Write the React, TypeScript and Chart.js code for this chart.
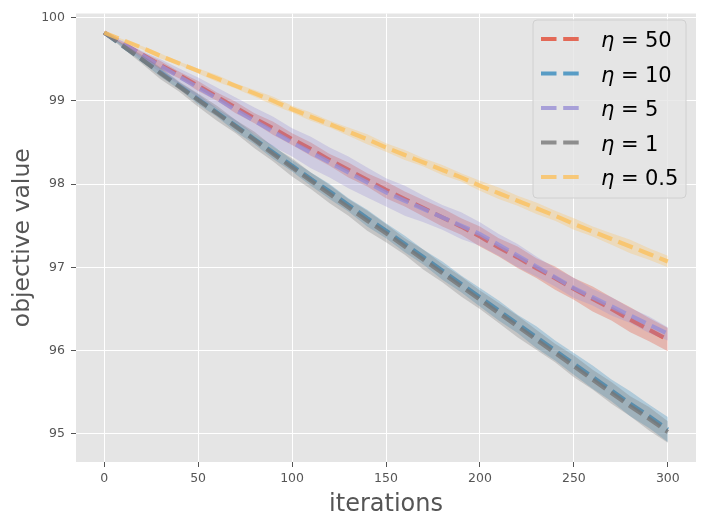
import React, { useEffect, useRef } from "react";
import { Chart, registerables } from "chart.js";

Chart.register(...registerables);

const ITERATIONS = [0, 10, 20, 30, 40, 50, 60, 70, 80, 90, 100, 110, 120, 130, 140, 150, 160, 170, 180, 190, 200, 210, 220, 230, 240, 250, 260, 270, 280, 290, 300];

const X_TICKS = [0, 50, 100, 150, 200, 250, 300];
const Y_TICKS = [95, 96, 97, 98, 99, 100];

const ETA_LABELS = ["50", "10", "5", "1", "0.5"];
const COLORS = ["#E24A33", "#348ABD", "#988ED5", "#777777", "#FBC15E"];

const MEAN_ETA50 = [99.82, 99.69, 99.56, 99.43, 99.31, 99.18, 99.05, 98.92, 98.79, 98.67, 98.54, 98.42, 98.29, 98.17, 98.05, 97.93, 97.82, 97.71, 97.6, 97.49, 97.37, 97.24, 97.12, 96.99, 96.87, 96.74, 96.62, 96.5, 96.37, 96.25, 96.13];
const MEAN_ETA10 = [99.82, 99.66, 99.5, 99.34, 99.18, 99.02, 98.86, 98.7, 98.54, 98.38, 98.22, 98.06, 97.91, 97.75, 97.59, 97.44, 97.28, 97.12, 96.96, 96.8, 96.64, 96.48, 96.32, 96.16, 96.0, 95.84, 95.68, 95.52, 95.36, 95.21, 95.05];
const MEAN_ETA5 = [99.82, 99.69, 99.55, 99.42, 99.29, 99.16, 99.03, 98.89, 98.76, 98.63, 98.5, 98.38, 98.26, 98.14, 98.02, 97.9, 97.8, 97.7, 97.6, 97.5, 97.4, 97.27, 97.14, 97.01, 96.88, 96.75, 96.64, 96.53, 96.42, 96.31, 96.2];
const MEAN_ETA1 = [99.82, 99.66, 99.5, 99.33, 99.17, 99.01, 98.85, 98.69, 98.53, 98.36, 98.2, 98.04, 97.88, 97.72, 97.56, 97.41, 97.25, 97.09, 96.93, 96.77, 96.61, 96.45, 96.29, 96.13, 95.97, 95.81, 95.65, 95.49, 95.33, 95.18, 95.02];
const MEAN_ETA05 = [99.82, 99.73, 99.64, 99.54, 99.45, 99.36, 99.27, 99.18, 99.09, 99.0, 98.9, 98.81, 98.72, 98.63, 98.54, 98.44, 98.35, 98.26, 98.17, 98.08, 97.98, 97.89, 97.8, 97.71, 97.62, 97.52, 97.43, 97.34, 97.25, 97.16, 97.07];

const SPREAD_ETA50 = [0, 0.02, 0.03, 0.05, 0.04, 0.06, 0.05, 0.07, 0.06, 0.08, 0.07, 0.08, 0.07, 0.09, 0.08, 0.1, 0.09, 0.1, 0.11, 0.1, 0.12, 0.11, 0.13, 0.12, 0.14, 0.13, 0.15, 0.14, 0.15, 0.14, 0.14];
const SPREAD_ETA10 = [0, 0.02, 0.03, 0.05, 0.04, 0.06, 0.05, 0.07, 0.06, 0.08, 0.07, 0.08, 0.09, 0.08, 0.1, 0.09, 0.1, 0.09, 0.11, 0.1, 0.11, 0.12, 0.11, 0.13, 0.12, 0.13, 0.14, 0.13, 0.15, 0.14, 0.15];
const SPREAD_ETA5 = [0, 0.03, 0.05, 0.08, 0.1, 0.12, 0.13, 0.15, 0.16, 0.18, 0.17, 0.19, 0.18, 0.19, 0.18, 0.17, 0.18, 0.16, 0.15, 0.16, 0.14, 0.13, 0.14, 0.12, 0.11, 0.12, 0.1, 0.11, 0.09, 0.1, 0.08];
const SPREAD_ETA1 = [0, 0.03, 0.05, 0.07, 0.06, 0.08, 0.09, 0.08, 0.1, 0.09, 0.11, 0.1, 0.11, 0.1, 0.12, 0.11, 0.1, 0.12, 0.11, 0.12, 0.11, 0.12, 0.13, 0.12, 0.11, 0.13, 0.12, 0.13, 0.12, 0.14, 0.13];
const SPREAD_ETA05 = [0, 0.01, 0.02, 0.03, 0.02, 0.03, 0.04, 0.03, 0.04, 0.05, 0.04, 0.05, 0.04, 0.05, 0.06, 0.05, 0.06, 0.05, 0.06, 0.05, 0.06, 0.07, 0.06, 0.07, 0.06, 0.07, 0.06, 0.07, 0.08, 0.07, 0.07];

const MEANS = [MEAN_ETA50, MEAN_ETA10, MEAN_ETA5, MEAN_ETA1, MEAN_ETA05];
const SPREADS = [SPREAD_ETA50, SPREAD_ETA10, SPREAD_ETA5, SPREAD_ETA1, SPREAD_ETA05];

function rgba(hex: string, a: number) {
  const n = parseInt(hex.slice(1), 16);
  return `rgba(${(n >> 16) & 255},${(n >> 8) & 255},${n & 255},${a})`;
}

const FONT = "'DejaVu Sans', sans-serif";
const DASH = [15.5, 6.7];
const LINE_W = 4.2;

const bgPlugin = {
  id: "plotBg",
  beforeDraw(chart: any) {
    const { ctx, chartArea } = chart;
    if (!chartArea) return;
    ctx.save();
    ctx.fillStyle = "#E5E5E5";
    ctx.fillRect(chartArea.left, chartArea.top, chartArea.right - chartArea.left, chartArea.bottom - chartArea.top);
    ctx.restore();
  },
};

const legendPlugin = {
  id: "customLegend",
  afterDraw(chart: any) {
    const { ctx } = chart;
    ctx.save();
    const x0 = 533, y0 = 20, w = 153, h = 178, r = 4;
    ctx.beginPath();
    ctx.moveTo(x0 + r, y0);
    ctx.lineTo(x0 + w - r, y0);
    ctx.quadraticCurveTo(x0 + w, y0, x0 + w, y0 + r);
    ctx.lineTo(x0 + w, y0 + h - r);
    ctx.quadraticCurveTo(x0 + w, y0 + h, x0 + w - r, y0 + h);
    ctx.lineTo(x0 + r, y0 + h);
    ctx.quadraticCurveTo(x0, y0 + h, x0, y0 + h - r);
    ctx.lineTo(x0, y0 + r);
    ctx.quadraticCurveTo(x0, y0, x0 + r, y0);
    ctx.closePath();
    ctx.fillStyle = "rgba(229,229,229,0.8)";
    ctx.fill();
    ctx.strokeStyle = "#D0D0D0";
    ctx.lineWidth = 1;
    ctx.stroke();

    ETA_LABELS.forEach((lab, i) => {
      const y = 39 + 34.5 * i;
      ctx.beginPath();
      ctx.setLineDash(DASH);
      ctx.lineCap = "butt";
      ctx.lineWidth = LINE_W;
      ctx.strokeStyle = rgba(COLORS[i], 0.8);
      ctx.moveTo(541, y);
      ctx.lineTo(579, y);
      ctx.stroke();
      ctx.setLineDash([]);
      ctx.fillStyle = "#000";
      ctx.textBaseline = "alphabetic";
      ctx.textAlign = "left";
      ctx.font = `italic 21px ${FONT}`;
      ctx.fillText("η", 601, y + 8.3);
      ctx.font = `21px ${FONT}`;
      ctx.fillText("=", 621, y + 8.3);
      ctx.fillText(lab, 645, y + 8.3);
    });
    ctx.restore();
  },
};

export default function App() {
  const ref = useRef<HTMLCanvasElement | null>(null);

  useEffect(() => {
    document.body.style.margin = "0";
    const datasets: any[] = [];
    MEANS.forEach((mean, k) => {
      const spread = SPREADS[k];
      const upper = ITERATIONS.map((x, i) => ({ x, y: mean[i] + spread[i] }));
      const lower = ITERATIONS.map((x, i) => ({ x, y: mean[i] - spread[i] }));
      const mid = ITERATIONS.map((x, i) => ({ x, y: mean[i] }));
      datasets.push({
        label: `band-up-${k}`,
        data: upper,
        borderWidth: 0,
        pointRadius: 0,
        backgroundColor: rgba(COLORS[k], 0.3),
        fill: "+1",
        order: 100 - 10 * k,
      });
      datasets.push({
        label: `band-lo-${k}`,
        data: lower,
        borderWidth: 0,
        pointRadius: 0,
        fill: false,
        order: 99 - 10 * k,
      });
      datasets.push({
        label: `η = ${ETA_LABELS[k]}`,
        data: mid,
        borderColor: rgba(COLORS[k], 0.8),
        borderWidth: LINE_W,
        borderDash: DASH,
        borderCapStyle: "butt",
        pointRadius: 0,
        fill: false,
        tension: 0,
        order: 98 - 10 * k,
      });
    });

    const chart = new Chart(ref.current as HTMLCanvasElement, {
      type: "line",
      data: { datasets },
      plugins: [bgPlugin, legendPlugin],
      options: {
        animation: false,
        responsive: false,
        devicePixelRatio: 1,
        layout: { padding: { top: 11, right: 9, left: 0, bottom: 0 } },
        plugins: { legend: { display: false }, tooltip: { enabled: false } },
        scales: {
          x: {
            type: "linear",
            min: -15,
            max: 315,
            afterBuildTicks: (s: any) => {
              s.ticks = X_TICKS.map((v) => ({ value: v }));
            },
            afterFit: (s: any) => {
              s.height = 64;
            },
            border: { display: false },
            grid: { color: "#FFFFFF", lineWidth: 1, tickLength: 5, tickColor: "#555555", tickWidth: 1 },
            ticks: { color: "#555555", font: { family: FONT, size: 12.5 }, padding: 4, maxRotation: 0 },
            title: { display: true, text: "iterations", color: "#555555", font: { family: FONT, size: 24 }, padding: { top: 0, bottom: 7 } },
          },
          y: {
            type: "linear",
            min: 94.66,
            max: 100.05,
            afterBuildTicks: (s: any) => {
              s.ticks = Y_TICKS.map((v) => ({ value: v }));
            },
            afterFit: (s: any) => {
              s.width = 76;
            },
            border: { display: false },
            grid: { color: "#FFFFFF", lineWidth: 1, tickLength: 5, tickColor: "#555555", tickWidth: 1 },
            ticks: { color: "#555555", font: { family: FONT, size: 12.5 }, padding: 6, callback: (v: any) => String(v) },
            title: { display: true, text: "objective value", color: "#555555", font: { family: FONT, size: 23.5 }, padding: { top: 9, bottom: 0 } },
          },
        },
      } as any,
    });
    return () => chart.destroy();
  }, []);

  return (
    <div style={{ position: "absolute", left: 0, top: 0, width: 705, height: 526, background: "#fff" }}>
      <canvas ref={ref} width={705} height={526} style={{ width: 705, height: 526 }} />
    </div>
  );
}
